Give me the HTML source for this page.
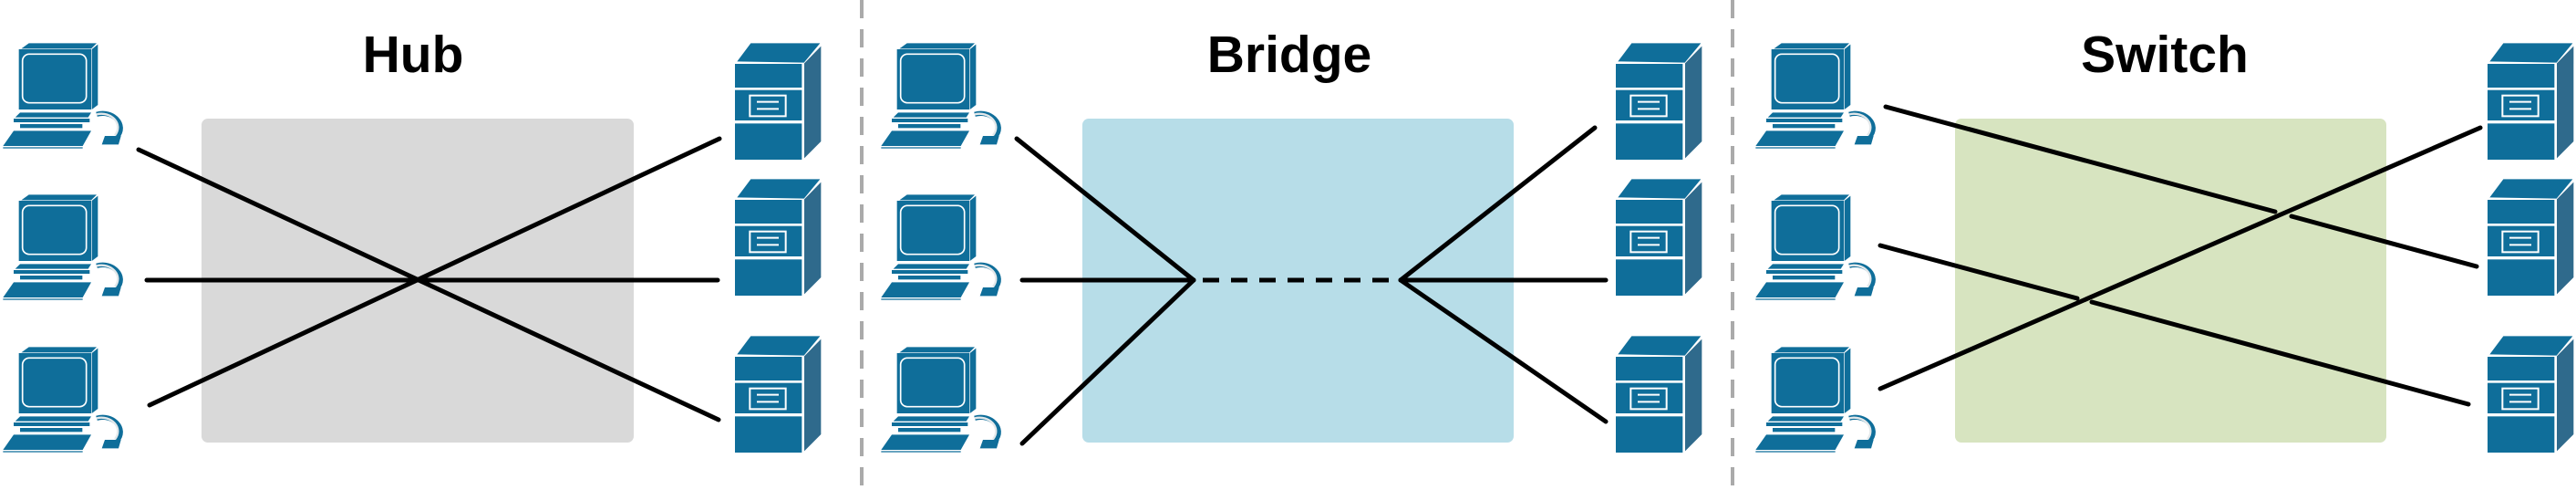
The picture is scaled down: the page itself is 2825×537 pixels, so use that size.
<!DOCTYPE html>
<html><head><meta charset="utf-8"><style>
html,body{margin:0;padding:0;background:#fff;width:2825px;height:537px;overflow:hidden}
</style></head><body>
<svg width="2825" height="537" viewBox="0 0 2825 537" xmlns="http://www.w3.org/2000/svg">
<defs>
<g id="pc">
  <polygon points="70,70 95,52 318,52 300,70" fill="#0f6e9a"/>
  <rect x="62" y="72" width="238" height="198" fill="#0f6e9a"/>
  <polygon points="302,72 322,56 322,255 302,270" fill="#0f6e9a"/>
  <rect x="74" y="88" width="210" height="160" rx="22" fill="#0f6e9a" stroke="#fff" stroke-width="5"/>
  <polygon points="50,296 66,280 300,280 290,296" fill="#0f6e9a"/>
  <rect x="45" y="300" width="250" height="12" fill="#0f6e9a"/>
  <rect x="66" y="318" width="205" height="13" fill="#0f6e9a"/>
  <polygon points="10,390 45,340 300,340 272,390" fill="#0f6e9a"/>
  <line x1="10" y1="396" x2="272" y2="396" stroke="#0f6e9a" stroke-width="4"/>
  <path d="M318,286 C370,270 420,320 385,360" fill="none" stroke="#0f6e9a" stroke-width="16"/>
  <path d="M318,286 C365,274 408,318 378,355" fill="none" stroke="#e3e8ea" stroke-width="7"/>
  <polygon points="335,385 345,357 398,357 390,385" fill="#0f6e9a"/>
</g>
<g id="srv">
  <polygon points="85,112 130,52 358,52 305,116" fill="#0f6e9a"/>
  <rect x="78" y="120" width="220" height="78" fill="#0f6e9a"/>
  <rect x="78" y="206" width="220" height="100" fill="#0f6e9a"/>
  <rect x="78" y="316" width="220" height="119" fill="#0f6e9a"/>
  <polygon points="306,118 361,62 361,375 306,430" fill="#2f6a8c"/>
  <rect x="127" y="224" width="118" height="68" fill="none" stroke="#fff" stroke-width="6"/>
  <line x1="150" y1="245" x2="222" y2="245" stroke="#fff" stroke-width="6"/>
  <line x1="150" y1="268" x2="222" y2="268" stroke="#fff" stroke-width="6"/>
</g>
</defs>

<!-- boxes -->
<rect x="221" y="130" width="474" height="355" rx="7" fill="#d9d9d9"/>
<rect x="1187" y="130" width="473" height="355" rx="7" fill="#b7dde8"/>
<rect x="2144" y="130" width="473" height="355" rx="7" fill="#d7e4c0"/>

<!-- dividers -->
<line x1="945" y1="0" x2="945" y2="537" stroke="#aaa" stroke-width="4" stroke-dasharray="20,12"/>
<line x1="1900" y1="0" x2="1900" y2="537" stroke="#aaa" stroke-width="4" stroke-dasharray="20,12"/>

<!-- titles -->
<g font-family="Liberation Sans, Arial, sans-serif" font-weight="bold" font-size="57" text-anchor="middle" fill="#000">
<text x="453" y="79">Hub</text>
<text x="1414" y="79">Bridge</text>
<text x="2374" y="79">Switch</text>
</g>

<!-- hub lines -->
<g stroke="#000" stroke-width="5" stroke-linecap="round">
<line x1="152" y1="164" x2="788" y2="460"/>
<line x1="164" y1="444" x2="789" y2="152"/>
<line x1="161" y1="307" x2="787" y2="307"/>
</g>

<!-- bridge lines -->
<g stroke="#000" stroke-width="5" stroke-linecap="round">
<line x1="1115" y1="152" x2="1309" y2="307"/>
<line x1="1121" y1="307" x2="1309" y2="307"/>
<line x1="1121" y1="486" x2="1309" y2="307"/>
<line x1="1749" y1="140" x2="1536" y2="307"/>
<line x1="1761" y1="307" x2="1536" y2="307"/>
<line x1="1761" y1="462" x2="1536" y2="307"/>
<line x1="1309" y1="307" x2="1536" y2="307" stroke-dasharray="18,13" stroke-linecap="butt" stroke-dashoffset="-10"/>
</g>

<!-- switch lines -->
<g stroke="#000" stroke-width="5" stroke-linecap="round">
<line x1="2068" y1="117" x2="2495" y2="232"/>
<line x1="2513" y1="237" x2="2716" y2="292"/>
<line x1="2062" y1="269" x2="2278" y2="327"/>
<line x1="2294" y1="331" x2="2707" y2="443"/>
<line x1="2062" y1="426" x2="2720" y2="140"/>
</g>

<!-- computers: svg 150x150 each, viewBox 450 -->
<svg x="0" y="30" width="150" height="150" viewBox="0 0 450 450"><use href="#pc"/></svg>
<svg x="0" y="196" width="150" height="150" viewBox="0 0 450 450"><use href="#pc"/></svg>
<svg x="0" y="363" width="150" height="150" viewBox="0 0 450 450"><use href="#pc"/></svg>
<svg x="963" y="30" width="150" height="150" viewBox="0 0 450 450"><use href="#pc"/></svg>
<svg x="963" y="196" width="150" height="150" viewBox="0 0 450 450"><use href="#pc"/></svg>
<svg x="963" y="363" width="150" height="150" viewBox="0 0 450 450"><use href="#pc"/></svg>
<svg x="1922" y="30" width="150" height="150" viewBox="0 0 450 450"><use href="#pc"/></svg>
<svg x="1922" y="196" width="150" height="150" viewBox="0 0 450 450"><use href="#pc"/></svg>
<svg x="1922" y="363" width="150" height="150" viewBox="0 0 450 450"><use href="#pc"/></svg>

<!-- servers -->
<svg x="780" y="30" width="150" height="170" viewBox="0 0 450 510"><use href="#srv"/></svg>
<svg x="780" y="179" width="150" height="170" viewBox="0 0 450 510"><use href="#srv"/></svg>
<svg x="780" y="351" width="150" height="170" viewBox="0 0 450 510"><use href="#srv"/></svg>
<svg x="1746" y="30" width="150" height="170" viewBox="0 0 450 510"><use href="#srv"/></svg>
<svg x="1746" y="179" width="150" height="170" viewBox="0 0 450 510"><use href="#srv"/></svg>
<svg x="1746" y="351" width="150" height="170" viewBox="0 0 450 510"><use href="#srv"/></svg>
<svg x="2702" y="30" width="150" height="170" viewBox="0 0 450 510"><use href="#srv"/></svg>
<svg x="2702" y="179" width="150" height="170" viewBox="0 0 450 510"><use href="#srv"/></svg>
<svg x="2702" y="351" width="150" height="170" viewBox="0 0 450 510"><use href="#srv"/></svg>
</svg>
</body></html>
